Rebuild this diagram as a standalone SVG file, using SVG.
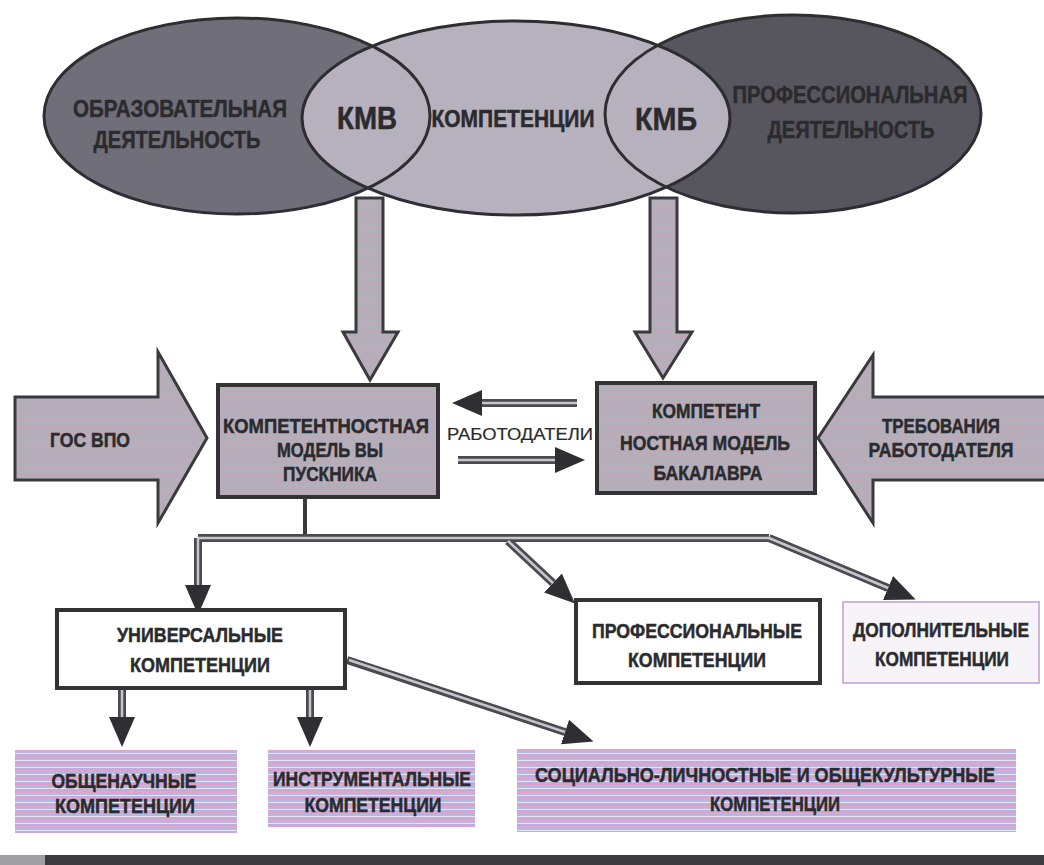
<svg xmlns="http://www.w3.org/2000/svg" width="1044" height="865" viewBox="0 0 1044 865">
<style>
.t{font-family:"Liberation Sans",Arial,"DejaVu Sans",sans-serif;font-weight:bold;text-anchor:middle;fill:#2b2b2e;stroke:#2b2b2e;stroke-width:0.5;}
.n{font-weight:normal;stroke-width:0.2;}
.ell{stroke:#2e2e32;stroke-width:3;fill:none;}
.blk{stroke:#3a3a3e;stroke-width:3;stroke-linejoin:miter;}
.box{stroke:#333336;stroke-width:4;}
.out{fill:none;stroke:#4a4a50;stroke-width:8;}
.inn{fill:none;stroke:#c8c6cc;stroke-width:2.5;}
.solid{fill:none;stroke:#3a3a3e;stroke-width:4;}
</style>
<defs>
<marker id="head" markerUnits="userSpaceOnUse" viewBox="0 -14 32 28" refX="0" refY="0" markerWidth="32" markerHeight="28" orient="auto">
<path d="M0,-13 L30,0 L0,13 Z" fill="#2f2f33"/>
</marker>
<pattern id="stripes" patternUnits="userSpaceOnUse" width="10" height="7">
<rect x="0" y="0" width="10" height="2" fill="#e2a4c6"/>
<rect x="0" y="2" width="10" height="2" fill="#aabde6"/>
<rect x="0" y="4" width="10" height="1" fill="#efe2f0"/>
<rect x="0" y="5" width="10" height="2" fill="#c6aadc"/>
</pattern>
<pattern id="greystripes" patternUnits="userSpaceOnUse" width="10" height="6">
<rect x="0" y="0" width="10" height="6" fill="#b2afba"/>
<rect x="0" y="0" width="10" height="1" fill="#bea9b6"/>
<rect x="0" y="3" width="10" height="1" fill="#a6b6be"/>
</pattern>
</defs>
<rect width="1044" height="865" fill="#ffffff"/>

<g id="ellipses">
<ellipse cx="237" cy="116" rx="193" ry="98" fill="#706e78"/>
<ellipse cx="793" cy="114" rx="188" ry="99" fill="#57555e"/>
<ellipse cx="516" cy="118" rx="214" ry="97" fill="#b6b1bd"/>
<ellipse class="ell" cx="237" cy="116" rx="193" ry="98"/>
<ellipse class="ell" cx="793" cy="114" rx="188" ry="99"/>
<ellipse class="ell" cx="516" cy="118" rx="214" ry="97"/>
</g>
<g id="node-obraz">
<text class="t" x="180" y="117" font-size="24" textLength="214" lengthAdjust="spacingAndGlyphs" fill="#35353b" stroke="#35353b">ОБРАЗОВАТЕЛЬНАЯ</text>
<text class="t" x="177" y="148" font-size="24" textLength="167" lengthAdjust="spacingAndGlyphs" fill="#35353b" stroke="#35353b">ДЕЯТЕЛЬНОСТЬ</text>
</g>
<g id="node-kmv">
<text class="t" x="367" y="129" font-size="31" textLength="60" lengthAdjust="spacingAndGlyphs">КМВ</text>
</g>
<g id="node-komp">
<text class="t" x="513" y="127" font-size="23" textLength="163" lengthAdjust="spacingAndGlyphs">КОМПЕТЕНЦИИ</text>
</g>
<g id="node-kmb">
<text class="t" x="666" y="130" font-size="31" textLength="62" lengthAdjust="spacingAndGlyphs">КМБ</text>
</g>
<g id="node-prof">
<text class="t" x="850" y="103" font-size="23" textLength="235" lengthAdjust="spacingAndGlyphs" fill="#2a2a31" stroke="#2a2a31">ПРОФЕССИОНАЛЬНАЯ</text>
<text class="t" x="851" y="138" font-size="23" textLength="167" lengthAdjust="spacingAndGlyphs" fill="#2a2a31" stroke="#2a2a31">ДЕЯТЕЛЬНОСТЬ</text>
</g>

<g id="block-arrows">
<path class="blk" fill="url(#greystripes)" d="M356,198 H383 V332 H398 L370,380 L343,332 H356 Z"/>
<path class="blk" fill="url(#greystripes)" d="M650,198 H677 V332 H692 L663,378 L635,332 H650 Z"/>
</g>

<g id="node-gos">
<path class="blk" fill="url(#greystripes)" d="M15,397 H158 V352 L207,438 L158,523 V480 H15 Z"/>
<text class="t" x="90" y="447" font-size="21" textLength="80" lengthAdjust="spacingAndGlyphs">ГОС ВПО</text>
</g>
<g id="node-treb">
<path class="blk" fill="url(#greystripes)" d="M1046,397 H873 V355 L818,438 L873,523 V480 H1046"/>
<text class="t" x="941" y="433" font-size="21" textLength="118" lengthAdjust="spacingAndGlyphs">ТРЕБОВАНИЯ</text>
<text class="t" x="941" y="457" font-size="21" textLength="145" lengthAdjust="spacingAndGlyphs">РАБОТОДАТЕЛЯ</text>
</g>
<g id="node-kmv-box">
<rect class="box" x="218" y="385" width="220" height="112" fill="url(#greystripes)"/>
<text class="t" x="326" y="433" font-size="21" textLength="206" lengthAdjust="spacingAndGlyphs">КОМПЕТЕНТНОСТНАЯ</text>
<text class="t" x="330" y="457" font-size="21" textLength="106" lengthAdjust="spacingAndGlyphs">МОДЕЛЬ ВЫ</text>
<text class="t" x="330" y="481" font-size="21" textLength="94" lengthAdjust="spacingAndGlyphs">ПУСКНИКА</text>
</g>
<g id="node-kmb-box">
<rect class="box" x="597" y="383" width="218" height="110" fill="url(#greystripes)"/>
<text class="t" x="706" y="418" font-size="21" textLength="108" lengthAdjust="spacingAndGlyphs">КОМПЕТЕНТ</text>
<text class="t" x="705" y="450" font-size="21" textLength="170" lengthAdjust="spacingAndGlyphs">НОСТНАЯ МОДЕЛЬ</text>
<text class="t" x="708" y="480" font-size="21" textLength="109" lengthAdjust="spacingAndGlyphs">БАКАЛАВРА</text>
</g>

<g id="connectors">
<path class="solid" d="M305,497 V538"/>
<path class="out" d="M198,538 H769"/>
<path class="out" d="M198,538 V585" marker-end="url(#head)"/>
<path class="out" d="M508,541 L553,583" marker-end="url(#head)"/>
<path class="out" d="M769,538 L888,588" marker-end="url(#head)"/>
<path class="out" d="M122,688 V717" marker-end="url(#head)"/>
<path class="out" d="M310,688 V717" marker-end="url(#head)"/>
<path class="out" d="M347,660 L565,732" marker-end="url(#head)"/>
<path class="out" d="M577,403 H482" marker-end="url(#head)"/>
<path class="out" d="M458,460 H555" marker-end="url(#head)"/>
<path class="inn" d="M198,538 H769"/>
<path class="inn" d="M198,538 V585"/>
<path class="inn" d="M508,541 L553,583"/>
<path class="inn" d="M769,538 L888,588"/>
<path class="inn" d="M122,690 V717"/>
<path class="inn" d="M310,690 V717"/>
<path class="inn" d="M349,660 L565,732"/>
<path class="inn" d="M577,403 H482" stroke="#b8d4d8"/>
<path class="inn" d="M458,460 H555" stroke="#b8d4d8"/>
</g>
<g id="node-rabotodateli">
<text class="t n" x="520" y="440" font-size="17" textLength="146" lengthAdjust="spacingAndGlyphs">РАБОТОДАТЕЛИ</text>
</g>

<g id="node-univ">
<rect class="box" x="57" y="610" width="288" height="78" fill="#ffffff"/>
<text class="t" x="200" y="642" font-size="21" textLength="166" lengthAdjust="spacingAndGlyphs">УНИВЕРСАЛЬНЫЕ</text>
<text class="t" x="200" y="672" font-size="21" textLength="140" lengthAdjust="spacingAndGlyphs">КОМПЕТЕНЦИИ</text>
</g>
<g id="node-profcomp">
<rect class="box" x="576" y="600" width="244" height="83" fill="#ffffff"/>
<text class="t" x="697" y="638" font-size="21" textLength="210" lengthAdjust="spacingAndGlyphs">ПРОФЕССИОНАЛЬНЫЕ</text>
<text class="t" x="697" y="667" font-size="21" textLength="138" lengthAdjust="spacingAndGlyphs">КОМПЕТЕНЦИИ</text>
</g>
<g id="node-dop">
<rect x="843" y="602" width="196" height="81" fill="#f7f4f9" stroke="#cdb6d8" stroke-width="2"/>
<text class="t" transform="translate(941,637) scale(0.834,1)" x="0" y="0" font-size="21" textLength="211" lengthAdjust="spacingAndGlyphs">ДОПОЛНИТЕЛЬНЫЕ</text>
<text class="t" x="942" y="666" font-size="21" textLength="134" lengthAdjust="spacingAndGlyphs">КОМПЕТЕНЦИИ</text>
</g>
<g id="node-obsh">
<rect x="15" y="750" width="222" height="83" fill="url(#stripes)"/>
<text class="t" x="124" y="788" font-size="21" textLength="145" lengthAdjust="spacingAndGlyphs">ОБЩЕНАУЧНЫЕ</text>
<text class="t" x="125" y="813" font-size="21" textLength="140" lengthAdjust="spacingAndGlyphs">КОМПЕТЕНЦИИ</text>
</g>
<g id="node-instr">
<rect x="268" y="750" width="207" height="77" fill="url(#stripes)"/>
<text class="t" x="372" y="786" font-size="21" textLength="198" lengthAdjust="spacingAndGlyphs">ИНСТРУМЕНТАЛЬНЫЕ</text>
<text class="t" x="373" y="812" font-size="21" textLength="137" lengthAdjust="spacingAndGlyphs">КОМПЕТЕНЦИИ</text>
</g>
<g id="node-soc">
<rect x="517" y="749" width="499" height="83" fill="url(#stripes)"/>
<text class="t" transform="translate(765,782) scale(0.863,1)" x="0" y="0" font-size="21" textLength="533" lengthAdjust="spacingAndGlyphs">СОЦИАЛЬНО-ЛИЧНОСТНЫЕ И ОБЩЕКУЛЬТУРНЫЕ</text>
<text class="t" x="775" y="811" font-size="21" textLength="130" lengthAdjust="spacingAndGlyphs">КОМПЕТЕНЦИИ</text>
</g>
<g id="bottom-band">
<rect x="0" y="855" width="1044" height="10" fill="#3c3c40"/>
<rect x="0" y="855" width="45" height="10" fill="#a0a0a4"/>
</g>
</svg>
